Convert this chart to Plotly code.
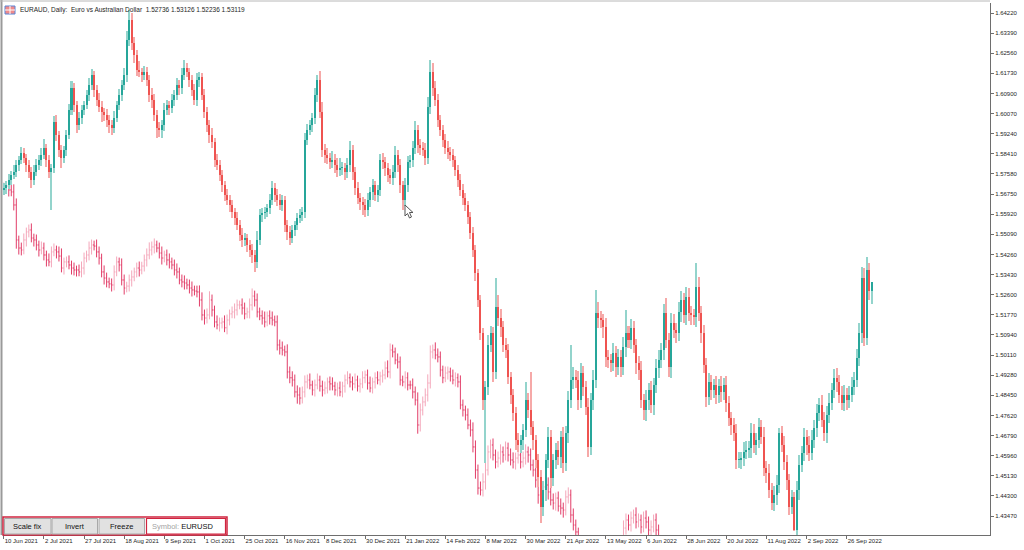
import plotly.graph_objects as go

# ---------------- data ----------------
date_labels = ["10 Jun 2021", "2 Jul 2021", "27 Jul 2021", "18 Aug 2021", "9 Sep 2021", "1 Oct 2021",
               "25 Oct 2021", "16 Nov 2021", "8 Dec 2021", "30 Dec 2021", "21 Jan 2022", "14 Feb 2022",
               "8 Mar 2022", "30 Mar 2022", "21 Apr 2022", "13 May 2022", "6 Jun 2022", "28 Jun 2022",
               "20 Jul 2022", "11 Aug 2022", "2 Sep 2022", "26 Sep 2022"]
date_label_bars = [0, 16, 32, 48, 64, 80, 96, 112, 128, 144, 160, 176, 192, 208, 224, 240, 256, 272,
                   288, 304, 320, 336]

price_ticks = [1.64220, 1.63390, 1.62560, 1.61730, 1.60900, 1.60070, 1.59240, 1.58410, 1.57580,
               1.56750, 1.55920, 1.55090, 1.54260, 1.53430, 1.52600, 1.51770, 1.50940, 1.50110,
               1.49280, 1.48450, 1.47620, 1.46790, 1.45960, 1.45130, 1.44300, 1.43470]

# EURAUD daily closes
euraud_first_open = 1.5692
euraud_close = [
    1.5701, 1.5713, 1.5734, 1.5754, 1.5767, 1.5795, 1.5816, 1.5845, 1.5824, 1.5795,
    1.5767, 1.5734, 1.5767, 1.5795, 1.5816, 1.5837, 1.5866, 1.5816, 1.5767, 1.5783,
    1.5973, 1.5919, 1.5857, 1.5824, 1.5857, 1.5919, 1.6022, 1.6113, 1.6043, 1.5960,
    1.5989, 1.6022, 1.6043, 1.6084, 1.6125, 1.6167, 1.6105, 1.6064, 1.6035, 1.6014,
    1.6002, 1.5981, 1.5960, 1.5948, 1.5989, 1.6043, 1.6084, 1.6125, 1.6167, 1.6311,
    1.6393, 1.6299, 1.6249, 1.6187, 1.6179, 1.6167, 1.6179, 1.6146, 1.6084, 1.6064,
    1.6002, 1.5948, 1.5940, 1.5960, 1.6022, 1.6043, 1.6031, 1.6064, 1.6084, 1.6125,
    1.6113, 1.6167, 1.6195, 1.6179, 1.6146, 1.6105, 1.6064, 1.6146, 1.6158, 1.6084,
    1.6014, 1.5960, 1.5919, 1.5890, 1.5816, 1.5795, 1.5754, 1.5713, 1.5672, 1.5651,
    1.5630, 1.5601, 1.5577, 1.5548, 1.5507, 1.5486, 1.5494, 1.5465, 1.5445, 1.5424,
    1.5395, 1.5486, 1.5589, 1.5597, 1.5601, 1.5618, 1.5651, 1.5701, 1.5672, 1.5651,
    1.5630, 1.5651, 1.5548, 1.5519, 1.5494, 1.5527, 1.5548, 1.5577, 1.5589, 1.5601,
    1.5899, 1.5940, 1.5960, 1.5989, 1.6084, 1.6146, 1.6014, 1.5857, 1.5837, 1.5824,
    1.5808, 1.5816, 1.5795, 1.5775, 1.5783, 1.5783, 1.5767, 1.5795, 1.5857, 1.5767,
    1.5701, 1.5659, 1.5643, 1.5630, 1.5610, 1.5651, 1.5684, 1.5713, 1.5672, 1.5692,
    1.5816, 1.5808, 1.5783, 1.5754, 1.5742, 1.5767, 1.5837, 1.5795, 1.5713, 1.5651,
    1.5713, 1.5808, 1.5816, 1.5866, 1.5940, 1.5878, 1.5866, 1.5857, 1.5824, 1.6035,
    1.6179, 1.6113, 1.6064, 1.5981, 1.5940, 1.5899, 1.5866, 1.5849, 1.5837, 1.5816,
    1.5775, 1.5734, 1.5692, 1.5659, 1.5630, 1.5581, 1.5515, 1.5445, 1.5350, 1.5239,
    1.5102, 1.4826, 1.4880, 1.5053, 1.5102, 1.4941, 1.5210, 1.5164, 1.5127, 1.5053,
    1.5032, 1.4921, 1.4847, 1.4772, 1.4661, 1.4640, 1.4661, 1.4702, 1.4826, 1.4785,
    1.4715, 1.4661, 1.4579, 1.4508, 1.4385, 1.4455, 1.4579, 1.4673, 1.4504, 1.4579,
    1.4620, 1.4591, 1.4673, 1.4566, 1.4690, 1.4826, 1.4909, 1.4921, 1.4909, 1.4826,
    1.4937, 1.4880, 1.4797, 1.4632, 1.4826, 1.4909, 1.5185, 1.5164, 1.5156, 1.5127,
    1.5003, 1.4991, 1.4979, 1.5020, 1.4962, 1.5003, 1.4962, 1.5045, 1.5102, 1.5074,
    1.5123, 1.5053, 1.4979, 1.4950, 1.4826, 1.4785, 1.4826, 1.4867, 1.4805, 1.4888,
    1.4958, 1.4991, 1.5032, 1.5185, 1.5074, 1.4962, 1.5144, 1.5115, 1.5102, 1.5189,
    1.5239, 1.5177, 1.5251, 1.5185, 1.5177, 1.5168, 1.5292, 1.5185, 1.5102, 1.4970,
    1.4838, 1.4900, 1.4867, 1.4888, 1.4847, 1.4884, 1.4859, 1.4888, 1.4814, 1.4752,
    1.4723, 1.4690, 1.4579, 1.4579, 1.4587, 1.4612, 1.4620, 1.4628, 1.4690, 1.4640,
    1.4661, 1.4715, 1.4673, 1.4545, 1.4525, 1.4455, 1.4401, 1.4434, 1.4475, 1.4690,
    1.4640, 1.4570, 1.4496, 1.4385, 1.4426, 1.4290, 1.4455, 1.4558, 1.4607, 1.4673,
    1.4640, 1.4607, 1.4661, 1.4711, 1.4772, 1.4805, 1.4744, 1.4690, 1.4764, 1.4814,
    1.4867, 1.4917, 1.4900, 1.4847, 1.4814, 1.4847, 1.4826, 1.4847, 1.4880, 1.4909,
    1.4999, 1.5102, 1.5329, 1.5082, 1.5362, 1.52736, 1.53119]

# EURAUD upper / lower shadow lengths (pips)
euraud_upper_pips = [
    20, 15, 25, 18, 30, 22, 18, 25, 20, 15, 22, 18, 30, 25, 20, 28, 35, 15, 20, 18,
    25, 30, 18, 22, 15, 20, 25, 30, 20, 15, 25, 20, 18, 22, 30, 25, 15, 20, 28, 22,
    18, 25, 20, 22, 30, 18, 25, 22, 30, 35, 41, 30, 25, 20, 35, 18, 25, 22, 20, 30,
    22, 18, 25, 20, 28, 22, 18, 25, 20, 30, 22, 30, 35, 20, 18, 22, 25, 30, 20, 18,
    25, 20, 22, 30, 18, 25, 20, 22, 18, 25, 20, 22, 18, 25, 20, 28, 22, 18, 20, 25,
    20, 35, 25, 20, 22, 18, 25, 30, 20, 22, 25, 20, 18, 22, 25, 20, 18, 22, 25, 20,
    30, 25, 20, 22, 28, 20, 35, 40, 25, 30, 20, 35, 25, 30, 40, 25, 20, 30, 35, 20,
    18, 25, 20, 22, 25, 30, 20, 25, 18, 22, 25, 30, 22, 20, 25, 30, 35, 20, 25, 18,
    30, 25, 22, 30, 35, 20, 25, 22, 30, 40, 49, 35, 30, 25, 20, 22, 25, 30, 20, 22,
    18, 20, 22, 25, 20, 18, 22, 25, 20, 18, 20, 22, 25, 40, 30, 25, 119, 50, 35, 25,
    30, 25, 20, 22, 25, 30, 20, 25, 74, 30, 156, 25, 20, 22, 30, 35, 25, 40, 30, 25,
    30, 35, 25, 40, 30, 35, 144, 40, 30, 35, 40, 30, 25, 35, 30, 40, 95, 45, 30, 25,
    35, 30, 25, 40, 30, 35, 30, 40, 95, 30, 35, 30, 25, 30, 35, 25, 40, 30, 35, 30,
    35, 40, 30, 35, 60, 30, 40, 35, 30, 40, 35, 30, 40, 35, 30, 25, 99, 40, 30, 35,
    30, 35, 30, 25, 35, 30, 40, 30, 35, 30, 25, 30, 35, 30, 25, 40, 35, 30, 40, 35,
    30, 35, 30, 40, 30, 35, 30, 35, 40, 21, 30, 35, 30, 25, 30, 20, 35, 40, 30, 35,
    30, 35, 40, 30, 35, 30, 40, 30, 35, 40, 30, 35, 40, 30, 35, 40, 30, 35, 40, 30,
    35, 40, 45, 40, 54, 30, 1]
euraud_lower_pips = [
    20, 25, 18, 22, 15, 20, 25, 18, 22, 30, 25, 35, 20, 18, 22, 25, 18, 30, 25, 157,
    20, 25, 30, 40, 22, 25, 18, 20, 30, 35, 20, 25, 22, 18, 25, 20, 30, 25, 20, 40,
    25, 30, 35, 30, 22, 18, 20, 25, 22, 30, 25, 30, 35, 25, 20, 30, 22, 25, 30, 35,
    25, 40, 30, 35, 25, 20, 30, 22, 25, 20, 30, 25, 20, 22, 30, 25, 20, 25, 30, 22,
    25, 30, 35, 25, 30, 22, 25, 30, 25, 22, 30, 25, 28, 22, 25, 30, 25, 28, 30, 35,
    40, 25, 22, 28, 25, 20, 25, 22, 30, 25, 22, 25, 30, 35, 28, 22, 25, 20, 22, 25,
    25, 20, 22, 28, 25, 30, 25, 30, 35, 25, 30, 25, 35, 30, 25, 30, 35, 25, 30, 35,
    30, 25, 35, 40, 30, 25, 30, 35, 25, 30, 25, 30, 35, 30, 25, 30, 25, 30, 35, 40,
    25, 30, 25, 30, 25, 35, 30, 25, 30, 25, 30, 35, 25, 30, 25, 30, 25, 30, 25, 30,
    25, 30, 25, 28, 25, 30, 25, 30, 35, 30, 30, 40, 260, 35, 30, 40, 30, 35, 40, 30,
    35, 30, 40, 35, 40, 30, 35, 40, 30, 35, 35, 40, 35, 40, 66, 40, 45, 35, 40, 35,
    40, 35, 45, 40, 35, 40, 35, 40, 35, 40, 35, 40, 35, 40, 35, 40, 35, 40, 35, 45,
    40, 35, 40, 35, 40, 35, 40, 35, 40, 35, 40, 35, 45, 40, 35, 40, 45, 40, 35, 40,
    35, 40, 35, 40, 35, 40, 45, 35, 40, 35, 40, 35, 40, 35, 40, 35, 40, 35, 40, 35,
    40, 35, 40, 35, 40, 35, 40, 35, 40, 35, 40, 35, 40, 35, 40, 35, 30, 35, 40, 35,
    40, 35, 30, 35, 40, 35, 30, 35, 40, 35, 30, 35, 40, 35, 30, 5, 35, 40, 30, 35,
    40, 35, 30, 35, 40, 35, 30, 35, 40, 35, 30, 35, 40, 35, 30, 35, 40, 35, 30, 35,
    30, 35, 40, 35, 30, 35, 52]

# EURUSD overlay closes
eurusd_first_open = 1.2175
eurusd_close = [
    1.2180, 1.2189, 1.2171, 1.2162, 1.2102, 1.1941, 1.1904, 1.1895, 1.1941, 1.1978,
    1.1987, 1.1950, 1.1941, 1.1918, 1.1895, 1.1904, 1.1872, 1.1849, 1.1840, 1.1886,
    1.1895, 1.1886, 1.1867, 1.1812, 1.1840, 1.1840, 1.1826, 1.1812, 1.1803, 1.1803,
    1.1794, 1.1812, 1.1858, 1.1872, 1.1904, 1.1918, 1.1913, 1.1886, 1.1858, 1.1794,
    1.1766, 1.1748, 1.1739, 1.1734, 1.1794, 1.1840, 1.1826, 1.1757, 1.1720, 1.1729,
    1.1757, 1.1771, 1.1794, 1.1812, 1.1803, 1.1821, 1.1849, 1.1872, 1.1895, 1.1909,
    1.1918, 1.1904, 1.1881, 1.1858, 1.1872, 1.1849, 1.1840, 1.1826, 1.1803, 1.1794,
    1.1757, 1.1748, 1.1743, 1.1734, 1.1720, 1.1711, 1.1706, 1.1702, 1.1665, 1.1596,
    1.1582, 1.1596, 1.1665, 1.1619, 1.1564, 1.1550, 1.1559, 1.1564, 1.1537, 1.1573,
    1.1601, 1.1610, 1.1619, 1.1642, 1.1642, 1.1628, 1.1601, 1.1610, 1.1642, 1.1683,
    1.1665, 1.1610, 1.1592, 1.1582, 1.1564, 1.1592, 1.1582, 1.1573, 1.1564, 1.1458,
    1.1444, 1.1435, 1.1426, 1.1334, 1.1307, 1.1297, 1.1242, 1.1228, 1.1214, 1.1242,
    1.1288, 1.1297, 1.1274, 1.1251, 1.1274, 1.1297, 1.1269, 1.1251, 1.1260, 1.1288,
    1.1279, 1.1269, 1.1251, 1.1260, 1.1242, 1.1269, 1.1297, 1.1307, 1.1288, 1.1279,
    1.1297, 1.1269, 1.1279, 1.1307, 1.1320, 1.1283, 1.1260, 1.1288, 1.1307, 1.1297,
    1.1315, 1.1320, 1.1352, 1.1334, 1.1435, 1.1426, 1.1389, 1.1380, 1.1297, 1.1288,
    1.1307, 1.1274, 1.1274, 1.1242, 1.1205, 1.1090, 1.1159, 1.1196, 1.1228, 1.1283,
    1.1426, 1.1435, 1.1412, 1.1403, 1.1343, 1.1307, 1.1329, 1.1334, 1.1315, 1.1297,
    1.1307, 1.1288, 1.1182, 1.1159, 1.1136, 1.1090, 1.1067, 1.0989, 1.0883, 1.0800,
    1.0791, 1.0828, 1.0883, 1.0966, 1.0998, 1.0952, 1.0920, 1.0938, 1.0966, 1.0952,
    1.0984, 1.0952, 1.0929, 1.0920, 1.0938, 1.0952, 1.0920, 1.0938, 1.0966, 1.0952,
    1.0906, 1.0883, 1.0837, 1.0768, 1.0800, 1.0805, 1.0814, 1.0782, 1.0745, 1.0731,
    1.0754, 1.0717, 1.0708, 1.0699, 1.0759, 1.0768, 1.0676, 1.0630, 1.0598, 1.0520,
    1.0505, 1.0545, 1.0510, 1.0470, 1.0520, 1.0550, 1.0540, 1.0480, 1.0410, 1.0380,
    1.0390, 1.0430, 1.0440, 1.0370, 1.0380, 1.0440, 1.0500, 1.0616, 1.0653, 1.0630,
    1.0662, 1.0676, 1.0644, 1.0653, 1.0621, 1.0662, 1.0644, 1.0607, 1.0621, 1.0653,
    1.0607, 1.0538]
eurusd_upper_pips = [
    25, 20, 30, 25, 35, 30, 20, 25, 30, 20, 25, 30, 20, 25, 20, 30, 25, 20, 30, 25,
    30, 20, 25, 35, 20, 25, 30, 20, 25, 20, 25, 30, 25, 20, 30, 25, 20, 30, 25, 20,
    30, 25, 20, 25, 30, 25, 20, 30, 25, 20, 25, 30, 20, 25, 30, 20, 25, 30, 35, 25,
    30, 20, 25, 30, 20, 25, 30, 20, 25, 30, 20, 25, 30, 20, 25, 30, 20, 25, 30, 35,
    25, 30, 40, 25, 20, 30, 25, 20, 30, 25, 20, 25, 30, 25, 20, 30, 25, 20, 30, 35,
    25, 30, 20, 25, 30, 20, 25, 30, 20, 30, 25, 30, 20, 35, 25, 30, 25, 30, 35, 25,
    30, 25, 30, 20, 25, 30, 20, 25, 30, 20, 25, 30, 20, 25, 30, 20, 25, 30, 20, 25,
    30, 20, 25, 30, 20, 25, 30, 20, 25, 30, 20, 25, 30, 35, 30, 25, 20, 30, 25, 20,
    30, 25, 20, 30, 25, 35, 30, 25, 30, 40, 30, 25, 35, 30, 25, 20, 30, 25, 20, 30,
    25, 20, 30, 25, 20, 30, 25, 35, 30, 25, 30, 40, 35, 30, 25, 30, 25, 30, 35, 25,
    30, 25, 30, 35, 25, 30, 25, 30, 35, 25, 30, 25, 30, 35, 30, 25, 30, 35, 25, 30,
    25, 30, 35, 25, 30, 35, 25, 30, 25, 20, 20, 25, 20, 25, 20, 25, 20, 25, 20, 25,
    20, 25, 20, 25, 20, 25, 30, 35, 30, 25, 30, 25, 35, 30, 25, 30, 35, 25, 30, 25,
    30, 25]
eurusd_lower_pips = [
    20, 25, 30, 20, 25, 40, 30, 25, 20, 30, 25, 20, 30, 25, 30, 20, 25, 30, 20, 25,
    20, 30, 25, 20, 30, 25, 20, 30, 25, 30, 20, 25, 30, 20, 25, 30, 20, 25, 30, 25,
    30, 25, 20, 30, 25, 20, 30, 25, 30, 20, 25, 30, 20, 25, 30, 20, 25, 30, 20, 25,
    30, 20, 25, 30, 20, 25, 30, 20, 25, 30, 20, 25, 30, 20, 25, 30, 20, 25, 30, 25,
    30, 25, 20, 30, 25, 20, 30, 25, 20, 30, 25, 20, 30, 25, 20, 30, 25, 20, 30, 25,
    30, 25, 20, 30, 25, 20, 30, 25, 20, 25, 30, 25, 20, 30, 25, 30, 25, 40, 30, 25,
    25, 30, 20, 25, 30, 20, 25, 30, 20, 25, 30, 20, 25, 30, 20, 25, 30, 20, 25, 30,
    20, 25, 30, 20, 25, 30, 20, 25, 30, 20, 25, 30, 20, 25, 30, 25, 20, 30, 25, 20,
    30, 25, 20, 30, 25, 40, 30, 25, 20, 30, 25, 30, 20, 25, 30, 25, 20, 30, 25, 20,
    30, 25, 20, 30, 25, 20, 30, 25, 40, 30, 25, 30, 35, 25, 30, 25, 30, 25, 30, 35,
    25, 30, 25, 30, 35, 25, 30, 25, 30, 35, 25, 30, 35, 40, 30, 25, 30, 35, 25, 30,
    35, 25, 30, 35, 25, 30, 35, 25, 30, 25, 30, 25, 30, 25, 30, 25, 30, 25, 30, 25,
    30, 25, 30, 25, 30, 25, 30, 25, 30, 25, 30, 25, 30, 25, 30, 25, 30, 25, 30, 25,
    30, 35]

title_text = "EURAUD, Daily:  Euro vs Australian Dollar  1.52736 1.53126 1.52236 1.53119"

# ---------------- build tables ----------------
PIP = 0.0001
n_a = min(len(euraud_close), len(euraud_upper_pips), len(euraud_lower_pips))
a_close = euraud_close[:n_a]
a_open = [euraud_first_open] + a_close[:-1]
a_high = [max(o, c) + u * PIP for o, c, u in zip(a_open, a_close, euraud_upper_pips)]
a_low = [min(o, c) - d * PIP for o, c, d in zip(a_open, a_close, euraud_lower_pips)]
a_idx = list(range(n_a))
a_up = [c >= o for o, c in zip(a_open, a_close)]

n_u = min(len(eurusd_close), len(eurusd_upper_pips), len(eurusd_lower_pips))
u_close = eurusd_close[:n_u]
u_open = [eurusd_first_open] + u_close[:-1]
u_high = [max(o, c) + u * PIP for o, c, u in zip(u_open, u_close, eurusd_upper_pips)]
u_low = [min(o, c) - d * PIP for o, c, d in zip(u_open, u_close, eurusd_lower_pips)]
u_idx = list(range(n_u))

BULL = "#26a69a"
BEAR = "#ef5350"
BULL_PALE = "#93d4cc"
BEAR_PALE = "#f6a9a8"

fig = go.Figure()

# EURUSD overlay (OHLC bars) on hidden base axis
fig.add_trace(go.Ohlc(
    x=u_idx, open=u_open, high=u_high, low=u_low, close=u_close,
    increasing=dict(line=dict(color="#f4a7ba", width=1)),
    decreasing=dict(line=dict(color="#e23d68", width=1)),
    tickwidth=0.4, xaxis="x", yaxis="y", hoverinfo="skip", name="EURUSD"))

# EURAUD candles: pale full range + solid body
fig.add_trace(go.Bar(
    x=a_idx, y=[h - l for h, l in zip(a_high, a_low)], base=a_low, width=0.8,
    marker=dict(color=[BULL_PALE if u else BEAR_PALE for u in a_up], line=dict(width=0)),
    xaxis="x", yaxis="y2", hoverinfo="skip", name="range"))
fig.add_trace(go.Bar(
    x=a_idx, y=[max(abs(c - o), 0.0003) for o, c in zip(a_open, a_close)],
    base=[min(o, c) for o, c in zip(a_open, a_close)], width=0.8,
    marker=dict(color=[BULL if u else BEAR for u in a_up], line=dict(width=0)),
    xaxis="x", yaxis="y2", hoverinfo="skip", name="EURAUD"))

# ---------------- layout ----------------
L, R, T, B = 3, 990, 3, 535
W, H = 1024, 550
def px(x):
    return (x - L) / (R - L)
def py(y):
    return (B - y) / (B - T)

AXC = "#6e6e6e"
FONT = "Liberation Sans"

fig.update_layout(
    width=W, height=H,
    margin=dict(l=L, r=W - R, t=T, b=H - B, autoexpand=False),
    paper_bgcolor="white", plot_bgcolor="white",
    showlegend=False, barmode="overlay", bargap=0,
    font=dict(family=FONT, size=6, color="#1e1e1e"),
    xaxis=dict(range=[-0.3, (R - L) / 2.509 - 0.3], tickmode="array", tickvals=date_label_bars,
               ticktext=date_labels, ticks="outside", ticklen=3, tickcolor=AXC, tickangle=0,
               ticklabelposition="outside right", tickfont=dict(size=6, family=FONT, color="#1e1e1e"),
               showline=True, linecolor=AXC, linewidth=1, showgrid=False, zeroline=False,
               rangeslider=dict(visible=False), fixedrange=True),
    yaxis=dict(range=[1.0584, 1.3031], visible=False, showgrid=False, zeroline=False, fixedrange=True),
    yaxis2=dict(range=[1.42686, 1.64633], overlaying="y", side="right", anchor="x",
                tickmode="array", tickvals=price_ticks, ticktext=[f"{v:.5f}" for v in price_ticks],
                ticks="outside", ticklen=3, tickcolor=AXC, tickfont=dict(size=6, family=FONT, color="#1e1e1e"),
                showline=True, linecolor=AXC, linewidth=1, showgrid=False, zeroline=False, fixedrange=True),
)

shapes = []
annotations = []

# window border (left / top)
shapes.append(dict(type="line", xref="paper", yref="paper", x0=px(1.5), x1=px(1.5), y0=py(0), y1=py(B),
                   line=dict(color="#9a9a9a", width=2)))
shapes.append(dict(type="line", xref="paper", yref="paper", x0=px(0), x1=px(R), y0=py(1), y1=py(1),
                   line=dict(color="#b8b8b8", width=1)))

# title icon + text
shapes.append(dict(type="rect", xref="paper", yref="paper", x0=px(5), x1=px(15), y0=py(14), y1=py(6),
                   fillcolor="#f08a8a", line=dict(color="#5b86d6", width=1)))
shapes.append(dict(type="line", xref="paper", yref="paper", x0=px(5), x1=px(15), y0=py(10), y1=py(10),
                   line=dict(color="white", width=1)))
shapes.append(dict(type="line", xref="paper", yref="paper", x0=px(10), x1=px(10), y0=py(14), y1=py(6),
                   line=dict(color="white", width=1)))
annotations.append(dict(xref="paper", yref="paper", x=px(18), y=py(10), xanchor="left", yanchor="middle",
                        text=title_text, showarrow=False, font=dict(size=6.5, family=FONT, color="#1e1e1e")))

# control panel
shapes.append(dict(type="rect", xref="paper", yref="paper", x0=px(3), x1=px(227), y0=py(535), y1=py(517),
                   fillcolor="white", line=dict(color="#d0243f", width=1.5)))
for bx0, bx1, label in [(4.5, 51, "Scale fix"), (52, 97.5, "Invert"), (99, 144.5, "Freeze")]:
    shapes.append(dict(type="rect", xref="paper", yref="paper", x0=px(bx0), x1=px(bx1), y0=py(534), y1=py(518.5),
                       fillcolor="#e1e1e1", line=dict(color="#a8a8a8", width=1)))
    annotations.append(dict(xref="paper", yref="paper", x=px((bx0 + bx1) / 2), y=py(526.5),
                            xanchor="center", yanchor="middle", text=label, showarrow=False,
                            font=dict(size=7.5, family=FONT, color="#111111")))
shapes.append(dict(type="rect", xref="paper", yref="paper", x0=px(146.5), x1=px(225.5), y0=py(534), y1=py(518.5),
                   fillcolor="white", line=dict(color="#d0243f", width=1.2)))
annotations.append(dict(xref="paper", yref="paper", x=px(150), y=py(526.5), xanchor="left", yanchor="middle",
                        text="<span style='color:#a4a4a4'>Symbol:</span> EURUSD", showarrow=False,
                        font=dict(size=7.5, family=FONT, color="#111111")))

# mouse pointer
pts = [(405, 205), (405, 216), (407.5, 213.5), (409.5, 218), (411.5, 217), (409.5, 212.5), (413, 212.5)]
path = "M " + " L ".join(f"{px(x):.5f},{py(y):.5f}" for x, y in pts) + " Z"
shapes.append(dict(type="path", xref="paper", yref="paper", path=path, fillcolor="white",
                   line=dict(color="#555555", width=1)))

fig.update_layout(shapes=shapes, annotations=annotations)

fig.write_html("out.html", config={"displayModeBar": False, "staticPlot": True},
               post_script="document.body.style.margin='0';document.body.style.padding='0';")
